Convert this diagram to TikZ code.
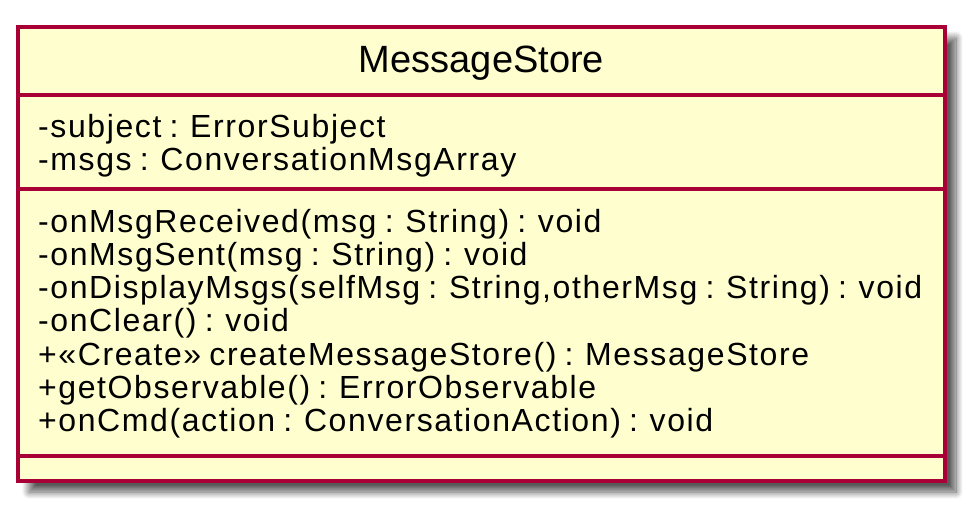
\documentclass[tikz,border=0pt]{standalone}
\usepackage{fontspec}
\setmainfont{Liberation Sans}
\newfontfamily\memberfont[LetterSpace=5.0]{Liberation Sans}
\newfontfamily\headerfont{Liberation Sans}
\newcommand\memberstyle{\memberfont\fontsize{32pt}{33pt}\selectfont\spaceskip 8.2pt\relax}
\usetikzlibrary{shadows.blur}
\definecolor{umlborder}{HTML}{A80036}
\definecolor{umlfill}{HTML}{FEFECE}
\tikzset{
  classbox/.style={draw=umlborder, fill=umlfill, line width=4pt, inner sep=0pt, outer sep=0pt,
    blur shadow={shadow xshift=11pt, shadow yshift=-11pt, shadow blur radius=7pt, shadow opacity=65, shadow blur steps=14}},
  sepline/.style={draw=umlborder, line width=4pt},
  member/.style={anchor=base west, inner sep=0pt, text=black, font=\memberstyle},
  header/.style={anchor=base, inner sep=0pt, text=black, font=\headerfont\fontsize{38pt}{40pt}\selectfont}
}
\begin{document}
\begin{tikzpicture}[x=1pt,y=-1pt]
\useasboundingbox (0,0) rectangle (979,516);
\node[classbox, anchor=north west, minimum width=927pt, minimum height=454pt] (cls) at (18,27) {};
\draw[sepline] (cls.west |- 0,95) -- (cls.east |- 0,95);
\draw[sepline] (cls.west |- 0,189) -- (cls.east |- 0,189);
\draw[sepline] (cls.west |- 0,456) -- (cls.east |- 0,456);
\node[header] (title) at (481.5,73) {MessageStore};
\node[member] (a1) at (38,137) {-subject : ErrorSubject};
\node[member] (a2) at (38,170) {-msgs : ConversationMsgArray};
\node[member] (m1) at (38,232) {-onMsgReceived(msg : String) : void};
\node[member] (m2) at (38,265.3) {-onMsgSent(msg : String) : void};
\node[member] (m3) at (38,298.6) {-onDisplayMsgs(selfMsg : String,otherMsg : String) : void};
\node[member] (m4) at (38,331.9) {-onClear() : void};
\node[member] (m5) at (38,365.2) {+«Create» createMessageStore() : MessageStore};
\node[member] (m6) at (38,398.5) {+getObservable() : ErrorObservable};
\node[member] (m7) at (38,431.8) {+onCmd(action : ConversationAction) : void};
\end{tikzpicture}
\end{document}
